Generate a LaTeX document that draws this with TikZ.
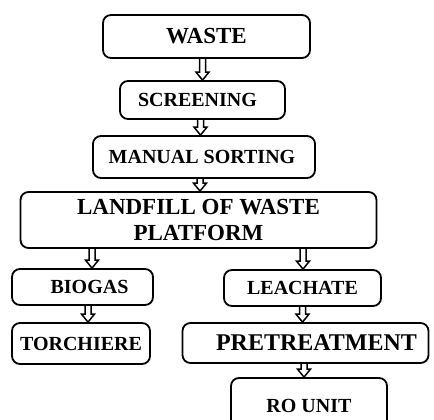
\documentclass[tikz,border=0pt]{standalone}
\usepackage{fontspec}
\setmainfont{Liberation Serif}
\usetikzlibrary{calc}
\tikzset{
  box/.style={draw, line width=1.8pt, rounded corners=8pt, inner sep=0pt,
    font=\bfseries\fontsize{20}{24}\selectfont, align=center},
  bigtext/.style={font=\bfseries\fontsize{23}{27}\selectfont},
  blockarrow/.style={line width=1.5pt, line join=miter, to path={
    let \p1=(\tikztostart), \p2=(\tikztotarget) in
    (\x1-3pt,\y1) -- (\x1-3pt,\y2+8pt) -- (\x1-6.5pt,\y2+8pt) -- (\x1,\y2)
    -- (\x1+6.5pt,\y2+8pt) -- (\x1+3pt,\y2+8pt) -- (\x1+3pt,\y1)}}
}
\begin{document}
\begin{tikzpicture}[x=1pt,y=1pt]
\useasboundingbox (0,0) rectangle (434,420);
\clip (0,0) rectangle (434,420);
\node[box, bigtext, minimum width=207pt, minimum height=43pt] (waste) at (206.5,383.5) {WASTE};
\node[box, minimum width=165pt, minimum height=38pt] (screen) at (202.5,320) {SCREENING\hspace{10pt}};
\node[box, minimum width=222pt, minimum height=42pt] (manual) at (204,263) {MANUAL SORTING\hspace{4pt}};
\node[box, bigtext, minimum width=356pt, minimum height=56pt] (landfill) at (198.5,200) {LANDFILL OF WASTE\\[-1pt]PLATFORM};
\node[box, minimum width=141pt, minimum height=36pt] (biogas) at (82.5,133) {\raisebox{-3pt}{\hspace{14pt}BIOGAS}};
\node[box, minimum width=157pt, minimum height=36pt] (leachate) at (302.5,132) {LEACHATE};
\node[box, minimum width=138pt, minimum height=41pt] (torch) at (81,76.5) {TORCHIERE};
\node[box, font=\bfseries\fontsize{24}{28}\selectfont, minimum width=246pt, minimum height=40pt] (pretreat) at (305.5,77) {\hspace{22pt}PRETREATMENT};
\node[box, minimum width=156pt, minimum height=56pt] (ro) at (309,14) {\raisebox{-2pt}{RO UNIT}};
\draw[blockarrow] ($(waste.south)+(-4,0)$) to (screen.north);
\draw[blockarrow] ($(screen.south)+(-2,0)$) to (manual.north);
\draw[blockarrow] ($(manual.south)+(-4,0)$) to (landfill.north);
\draw[blockarrow] ($(landfill.south -| biogas.north)+(9.5,0)$) to (biogas.north);
\draw[blockarrow] ($(landfill.south -| leachate.north)+(0.5,0)$) to (leachate.north);
\draw[blockarrow] ($(biogas.south)+(5.5,0)$) to (torch.north);
\draw[blockarrow] ($(leachate.south)+(0,0)$) to (pretreat.north);
\draw[blockarrow] ($(pretreat.south)+(-1.5,0)$) to (ro.north);
\end{tikzpicture}
\end{document}
